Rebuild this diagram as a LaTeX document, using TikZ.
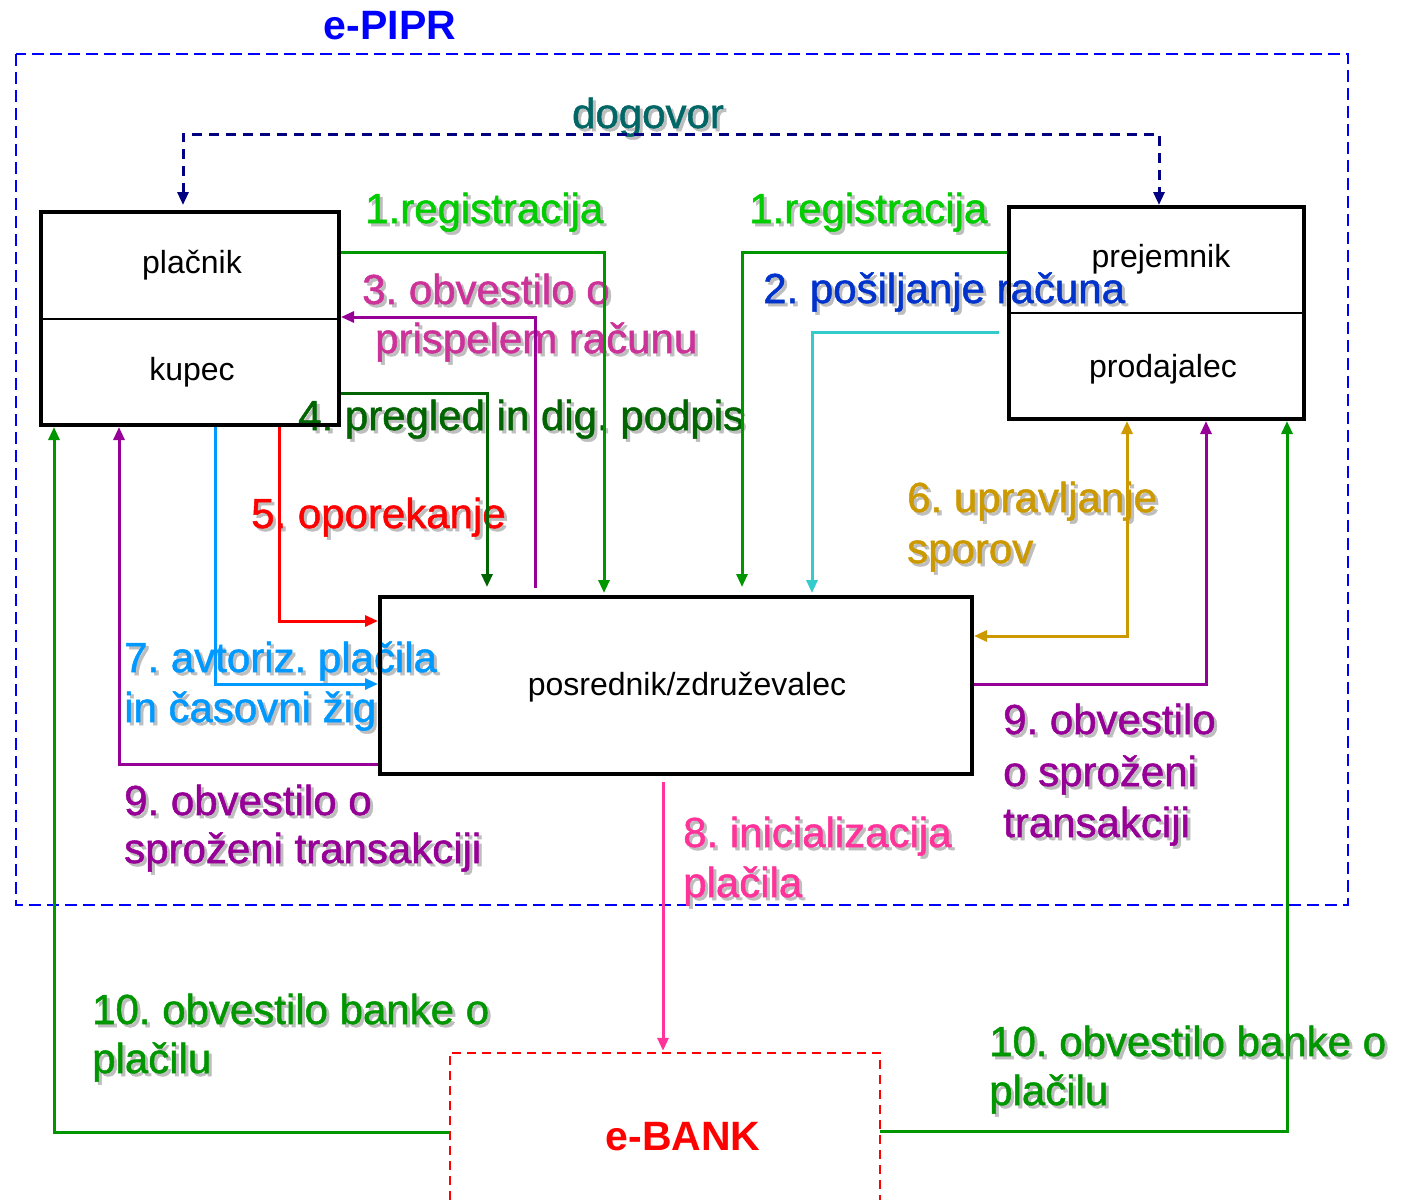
\documentclass[tikz,border=0pt]{standalone}
\usepackage{fontspec}
\setmainfont{Liberation Sans}
\newfontfamily\lblfamily{Liberation Sans}[FakeBold=1.2]
\usetikzlibrary{arrows.meta}

\definecolor{regGreen}{RGB}{0,204,0}
\definecolor{lineGreen}{RGB}{0,150,0}
\definecolor{darkGreen}{RGB}{0,100,0}
\definecolor{violet9}{RGB}{150,0,150}
\definecolor{magenta3}{RGB}{204,51,153}
\definecolor{blue2}{RGB}{0,51,204}
\definecolor{cyan2}{RGB}{51,204,204}
\definecolor{red5}{RGB}{255,0,0}
\definecolor{sky7}{RGB}{0,153,255}
\definecolor{pink8}{RGB}{255,51,153}
\definecolor{gold6}{RGB}{204,153,0}
\definecolor{tealAgree}{RGB}{0,102,102}
\definecolor{navyAgree}{RGB}{0,0,128}
\definecolor{frameBlue}{RGB}{0,0,255}
\definecolor{shadowgray}{RGB}{190,190,190}

% text with a soft grey drop shadow
\newcommand\shd[1]{\leavevmode\rlap{\kern3pt\lower3pt\hbox{\color{shadowgray}#1}}#1}

\tikzset{
  lbl/.style={anchor=base west, inner sep=0pt, font=\lblfamily\frenchspacing\fontsize{42}{50}\selectfont},
  boxtext/.style={anchor=base, inner sep=0pt, font=\fontsize{32}{38}\selectfont},
  titletext/.style={anchor=base, inner sep=0pt, font=\fontsize{41}{49}\selectfont\bfseries},
  box/.style={draw, line width=4pt, inner sep=0pt},
  conn/.style={line width=3pt, -{Triangle[length=13pt,width=11pt]}},
  biconn/.style={line width=3pt, {Triangle[length=13pt,width=11pt]}-{Triangle[length=13pt,width=11pt]}},
}

\begin{document}
\begin{tikzpicture}[x=1pt,y=-1pt]
\useasboundingbox (0,0) rectangle (1401,1200);

% e-PIPR frame
\draw[frameBlue, line width=2pt, dash pattern=on 12pt off 6pt] (16,54) rectangle (1348,905);
\node[titletext, text=frameBlue] (pipr) at (390,39) {e-PIPR};

% labels
\node[lbl, anchor=base, text=tealAgree] (lagree) at (648,128) {\shd{dogovor}};
\node[lbl, text=regGreen] (lreg1) at (365,223) {\shd{1.registracija}};
\node[lbl, text=regGreen] (lreg2) at (749,223) {\shd{1.registracija}};
\node[lbl, text=magenta3] (lnot3a) at (362,304) {\shd{3. obvestilo o}};
\node[lbl, text=magenta3] (lnot3b) at (375,353) {\shd{prispelem računu}};
\node[lbl, text=blue2] (lsend2) at (763,303) {\shd{2. pošiljanje računa}};
\node[lbl, text=darkGreen] (lrev4) at (298,430) {\shd{4. pregled in dig. podpis}};
\node[lbl, text=red5] (lobj5) at (251,528) {\shd{5. oporekanje}};
\node[lbl, text=gold6] (ldisp6a) at (907,512) {\shd{6. upravljanje}};
\node[lbl, text=gold6] (ldisp6b) at (907,563) {\shd{sporov}};
\node[lbl, text=sky7] (lauth7a) at (124,672) {\shd{7. avtoriz. plačila}};
\node[lbl, text=sky7] (lauth7b) at (124,722) {\shd{in časovni žig}};
\node[lbl, text=pink8] (linit8a) at (683,847) {\shd{8. inicializacija}};
\node[lbl, text=pink8] (linit8b) at (683,897) {\shd{plačila}};
\node[lbl, text=violet9] (ltr9a) at (124,815) {\shd{9. obvestilo o}};
\node[lbl, text=violet9] (ltr9b) at (124,863) {\shd{sproženi transakciji}};
\node[lbl, text=violet9] (rtr9a) at (1003,734) {\shd{9. obvestilo}};
\node[lbl, text=violet9] (rtr9b) at (1003,786) {\shd{o sproženi}};
\node[lbl, text=violet9] (rtr9c) at (1003,837) {\shd{transakciji}};
\node[lbl, text=lineGreen] (lbank10a) at (92,1024) {\shd{10. obvestilo banke o}};
\node[lbl, text=lineGreen] (lbank10b) at (92,1073) {\shd{plačilu}};
\node[lbl, text=lineGreen] (rbank10a) at (989,1056) {\shd{10. obvestilo banke o}};
\node[lbl, text=lineGreen] (rbank10b) at (989,1105) {\shd{plačilu}};

% participants
\node[box, minimum width=298pt, minimum height=213pt] (payer) at (190,318.5) {};
\node[box, minimum width=295pt, minimum height=212pt] (payee) at (1156.5,313) {};
\node[box, minimum width=592pt, minimum height=177pt] (mid) at (676,685.5) {};
\node[minimum width=430pt, minimum height=147pt, inner sep=0pt] (bank) at (665,1126.5) {};

\draw[line width=2pt] (payer.west) -- (payer.east);
\draw[line width=2pt] (payee.west) -- (payee.east);
\draw[red5, line width=2pt, dash pattern=on 9pt off 6pt]
  (bank.south west) -- (bank.north west) -- (bank.north east) -- (bank.south east);

\node[boxtext] (tpayer) at (192,273) {plačnik};
\node[boxtext] (tbuyer) at (192,380) {kupec};
\node[boxtext] (tpayee) at (1161,267) {prejemnik};
\node[boxtext] (tseller) at (1163,377) {prodajalec};
\node[boxtext] (tmid) at (687,695) {posrednik/združevalec};
\node[titletext, text=red5] (tbank) at (683,1150) {e-BANK};

% agreement
\coordinate (agreeL) at (183,134);
\coordinate (agreeR) at (1159,134);
\draw[navyAgree, biconn, dash pattern=on 10pt off 7pt, shorten <=5pt]
  (payer.north -| agreeL) -- (agreeL) -- (agreeR) -- (payee.north -| agreeR);

% 1. registration
\draw[lineGreen, conn, shorten >=2pt] (payer.east |- 0,252) -| (mid.north -| 604,0);
\draw[lineGreen, conn, shorten >=8pt] (payee.west |- 0,252) -| (mid.north -| 742,0);
% 2. sending the invoice
\coordinate (send2) at (999,332);
\draw[cyan2, conn, shorten >=2pt] (send2) -| (mid.north -| 812,0);
% 3. notification of arrived invoice
\coordinate (not3) at (535,588);
\draw[violet9, conn] (not3) |- (payer.east |- 0,317);
% 4. review and digital signature
\draw[darkGreen, conn, shorten >=8pt] (payer.east |- 0,393) -| (mid.north -| 487,0);
% 5. objection
\draw[red5, conn] (payer.south -| 279,0) |- (mid.west |- 0,621);
% 7. payment authorisation
\draw[sky7, conn] (payer.south -| 215,0) |- (mid.west |- 0,684);
% 9. notification to the buyer
\draw[violet9, conn] (mid.west |- 0,764) -| (payer.south -| 119,0);
% 10. bank notification to the buyer
\draw[lineGreen, conn] (bank.west |- 0,1132) -| (payer.south -| 54,0);
% 8. payment initialisation
\draw[pink8, conn, shorten <=6pt, shorten >=2pt] (mid.south -| 663,0) -- (bank.north -| 663,0);
% 6. dispute management
\draw[gold6, biconn] (payee.south -| 1127,0) |- (mid.east |- 0,636);
% 9. notification to the seller
\draw[violet9, conn] (mid.east |- 0,684) -| (payee.south -| 1206,0);
% 10. bank notification to the seller
\draw[lineGreen, conn] (bank.east |- 0,1131) -| (payee.south -| 1287,0);
\end{tikzpicture}
\end{document}
